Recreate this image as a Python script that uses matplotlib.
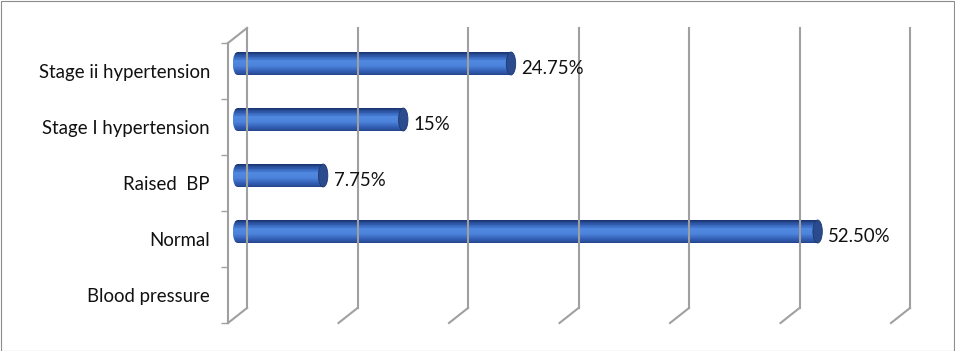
import matplotlib.pyplot as plt
import matplotlib.transforms as mtransforms
from matplotlib.patches import Ellipse, Rectangle
from matplotlib.colors import LinearSegmentedColormap
import numpy as np

plt.rcParams['font.family'] = ['Lato', 'DejaVu Sans']

# data (bottom to top)
categories = ['Blood pressure', 'Normal', 'Raised  BP', 'Stage I hypertension', 'Stage ii hypertension']
values = [None, 52.50, 7.75, 15, 24.75]
value_labels = ['', '52.50%', '7.75%', '15%', '24.75%']
x_ticks = [0, 10, 20, 30, 40, 50, 60]

W, H = 955, 351
fig = plt.figure(figsize=(W / 100, H / 100), dpi=100)
# front plane of the 3D box
ax = fig.add_axes([228 / W, (H - 323) / H, 663 / W, 280 / H])
ax.set_xlim(0, 60)
ax.set_ylim(-0.5, 4.5)
for s in ax.spines.values():
    s.set_visible(False)

grid_c = '#a0a0a0'
px = 1 / 100  # one pixel in inches
back = ax.transData + mtransforms.ScaledTranslation(19 * px, 15 * px, fig.dpi_scale_trans)
mid = ax.transData + mtransforms.ScaledTranslation(9.5 * px, 7.5 * px, fig.dpi_scale_trans)
inv = ax.transData.inverted()

# back wall gridlines with floor slants
for xv in x_ticks:
    ax.plot([xv, xv], [-0.5, 4.5], color=grid_c, lw=1.5, transform=back, clip_on=False)
    a = inv.transform(back.transform((xv, -0.5)))
    ax.plot([a[0], xv], [a[1], -0.5], color=grid_c, lw=1.5, clip_on=False)

# left side wall
ax.plot([0, 0], [-0.5, 4.5], color=grid_c, lw=1.5, clip_on=False)
tl = inv.transform(back.transform((0, 4.5)))
ax.plot([0, tl[0]], [4.5, tl[1]], color=grid_c, lw=1.5, clip_on=False)

# y ticks on category boundaries
ax.set_yticks(np.arange(-0.5, 5, 1))
ax.set_yticklabels([])
ax.tick_params(axis='y', which='major', length=5, width=1, color=grid_c)
ax.set_yticks(range(len(categories)), minor=True)
ax.set_yticklabels(categories, minor=True, fontsize=13.4, color='#111111')
ax.tick_params(axis='y', which='minor', length=0, pad=13)
ax.set_xticks([])

# cylinder bars
cmap = LinearSegmentedColormap.from_list('cyl', ['#1a3470', '#3360b5', '#5088e0', '#4c82da', '#3664bb', '#23428a'])
bar_h = 0.41
n = 30
cap_w = 0.85
for i, v in enumerate(values):
    if v is None:
        continue
    edges = np.linspace(i - bar_h / 2, i + bar_h / 2, n + 1)
    clip = Ellipse((0, i), cap_w, bar_h, transform=mid)
    for k in range(n):
        c = cmap(1 - (k + 0.5) / n)
        yc = (edges[k] + edges[k + 1]) / 2
        hk = edges[k + 1] - edges[k] + 0.002
        ax.barh(yc, v, height=hk, color=c, lw=0, transform=mid, clip_on=False)
        # rounded left end
        left = ax.barh(yc, cap_w / 2, left=-cap_w / 2, height=hk, color=c, lw=0,
                       transform=mid)
        for p in left:
            p.set_clip_path(clip)
    ax.add_patch(Ellipse((v, i), cap_w, bar_h, facecolor='#2a4b8e', edgecolor='#1d386f',
                         lw=0.6, transform=mid, clip_on=False))
    lab = ax.transData + mtransforms.ScaledTranslation(20 * px, 2 * px, fig.dpi_scale_trans)
    ax.text(v, i, value_labels[i], transform=lab, ha='left', va='center',
            fontsize=13.4, color='#111111', clip_on=False)

# outer chart border
fig.patches.append(Rectangle((0.5 / W, 0.5 / H), 1 - 1.5 / W, 1 - 1.5 / H, transform=fig.transFigure,
                             fill=False, edgecolor='#8c8c8c', lw=0.8))

fig.savefig('out.png', dpi=100)
